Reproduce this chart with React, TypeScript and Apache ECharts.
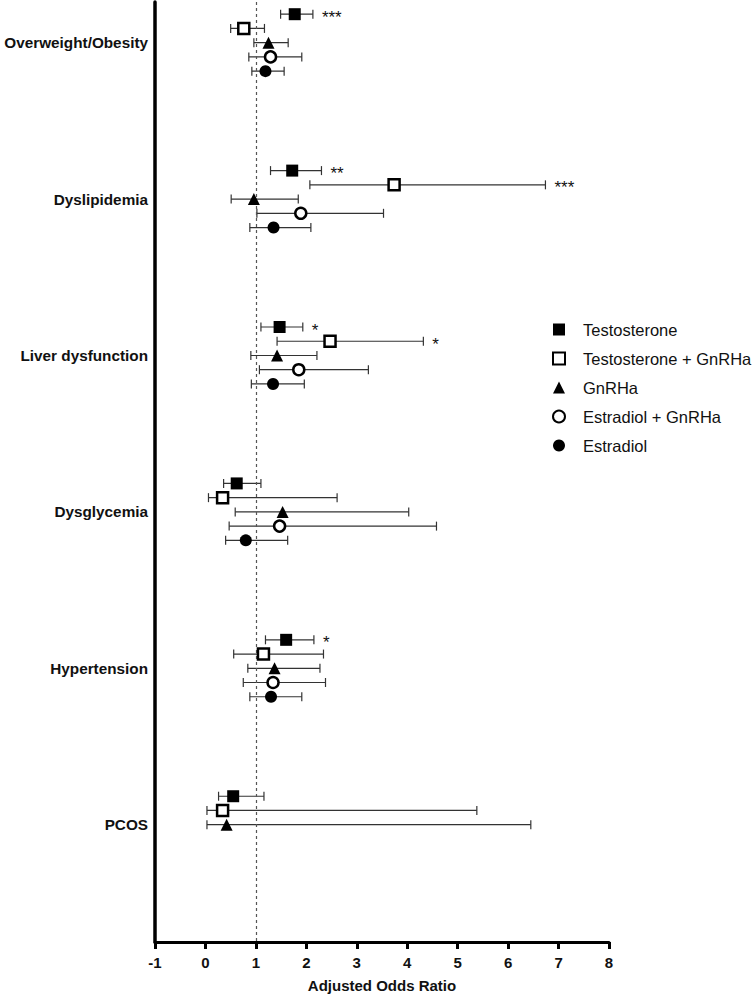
import React, { useEffect, useRef } from "react";
import * as echarts from "echarts";

const categories = ["Overweight/Obesity", "Dyslipidemia", "Liver dysfunction", "Dysglycemia", "Hypertension", "PCOS"];
const xTicks = [-1, 0, 1, 2, 3, 4, 5, 6, 7, 8];

const testosteroneOR = [1.77, 1.72, 1.47, 0.62, 1.6, 0.55];
const testosteroneLo = [1.49, 1.29, 1.1, 0.36, 1.19, 0.26];
const testosteroneHi = [2.13, 2.3, 1.93, 1.1, 2.15, 1.16];
const testosteroneSig = ["***", "**", "*", "", "*", ""];

const tgOR = [0.76, 3.74, 2.47, 0.34, 1.15, 0.34];
const tgLo = [0.5, 2.07, 1.42, 0.06, 0.56, 0.03];
const tgHi = [1.17, 6.74, 4.32, 2.61, 2.34, 5.38];
const tgSig = ["", "***", "*", "", "", ""];

const gnrhaOR = [1.25, 0.96, 1.42, 1.53, 1.37, 0.42];
const gnrhaLo = [0.96, 0.51, 0.9, 0.59, 0.84, 0.03];
const gnrhaHi = [1.64, 1.84, 2.21, 4.03, 2.27, 6.45];
const gnrhaSig = ["", "", "", "", "", ""];

const egOR = [1.29, 1.89, 1.85, 1.47, 1.34, null];
const egLo = [0.86, 1.02, 1.07, 0.47, 0.75, null];
const egHi = [1.91, 3.53, 3.23, 4.58, 2.38, null];
const egSig = ["", "", "", "", "", ""];

const eOR = [1.19, 1.35, 1.34, 0.8, 1.3, null];
const eLo = [0.92, 0.88, 0.91, 0.4, 0.88, null];
const eHi = [1.56, 2.09, 1.96, 1.63, 1.91, null];
const eSig = ["", "", "", "", "", ""];

const FONT = "'Liberation Sans', Arial, sans-serif";

type Group = {
  name: string;
  or: (number | null)[];
  lo: (number | null)[];
  hi: (number | null)[];
  sig: string[];
  offset: number;
  symbol: string;
  size: number;
  fill: string;
  border: number;
};

const ROW = 0.091;
const groups: Group[] = [
  { name: "Testosterone", or: testosteroneOR, lo: testosteroneLo, hi: testosteroneHi, sig: testosteroneSig, offset: -2 * ROW, symbol: "rect", size: 12, fill: "#000", border: 0 },
  { name: "Testosterone + GnRHa", or: tgOR, lo: tgLo, hi: tgHi, sig: tgSig, offset: -ROW, symbol: "rect", size: 11, fill: "#fff", border: 2.5 },
  { name: "GnRHa", or: gnrhaOR, lo: gnrhaLo, hi: gnrhaHi, sig: gnrhaSig, offset: 0, symbol: "triangle", size: 12, fill: "#000", border: 0 },
  { name: "Estradiol + GnRHa", or: egOR, lo: egLo, hi: egHi, sig: egSig, offset: ROW, symbol: "circle", size: 11, fill: "#fff", border: 2.5 },
  { name: "Estradiol", or: eOR, lo: eLo, hi: eHi, sig: eSig, offset: 2 * ROW, symbol: "circle", size: 12, fill: "#000", border: 0 },
];

function buildSeries(): any[] {
  const series: any[] = [];
  groups.forEach((g, gi) => {
    const idx = categories.map((_, i) => i).filter((i) => g.or[i] != null);
    const barData = idx.map((i) => [g.lo[i], g.hi[i], i + g.offset, g.or[i]]);
    const sigs = idx.map((i) => g.sig[i]);
    series.push({
      name: g.name + " CI",
      type: "custom",
      z: 2,
      silent: true,
      encode: { x: [0, 1], y: 2 },
      data: barData,
      renderItem: (params: any, api: any) => {
        const y = api.value(2);
        const a = api.coord([api.value(0), y]);
        const b = api.coord([api.value(1), y]);
        const cap = 4.5;
        const st = { stroke: "#333", lineWidth: 1.2 };
        const children: any[] = [
          { type: "line", shape: { x1: a[0], y1: a[1], x2: b[0], y2: b[1] }, style: st },
          { type: "line", shape: { x1: a[0], y1: a[1] - cap, x2: a[0], y2: a[1] + cap }, style: st },
          { type: "line", shape: { x1: b[0], y1: b[1] - cap, x2: b[0], y2: b[1] + cap }, style: st },
        ];
        const s = sigs[params.dataIndex];
        if (s) {
          children.push({
            type: "text",
            x: b[0] + 9,
            y: b[1] + 3,
            style: { text: s, fontSize: 17, fontFamily: FONT, fill: "#111", align: "left", verticalAlign: "middle" },
          });
        }
        return { type: "group", children };
      },
    });
    const pts = idx.map((i) => [g.or[i], i + g.offset]);
    const sc: any = {
      name: g.name,
      type: "scatter",
      z: 5,
      symbol: g.symbol,
      symbolSize: g.size,
      data: pts,
      itemStyle: { color: g.fill, borderColor: "#000", borderWidth: g.border, opacity: 1 },
    };
    if (gi === 0) {
      sc.markLine = {
        silent: true,
        symbol: ["none", "none"],
        label: { show: false },
        lineStyle: { color: "#555", type: [3, 3], width: 1.2 },
        data: [{ xAxis: 1 }],
      };
    }
    series.push(sc);
  });
  return series;
}

export default function App() {
  const ref = useRef<HTMLDivElement>(null);
  useEffect(() => {
    if (!ref.current) return;
    const chart = echarts.init(ref.current, null, { renderer: "svg" });
    chart.setOption({
      animation: false,
      backgroundColor: "#fff",
      textStyle: { fontFamily: FONT },
      grid: { left: 155, right: 146, top: 2, bottom: 55, containLabel: false, outerBoundsMode: "none" },
      legend: {
        orient: "vertical",
        left: 547,
        top: 316,
        itemWidth: 12,
        itemHeight: 12,
        itemGap: 12,
        selectedMode: false,
        data: groups.map((g) => g.name),
        textStyle: { fontSize: 16.5, color: "#111", fontFamily: FONT, padding: [0, 0, 0, 13] },
      },
      xAxis: {
        type: "value",
        min: xTicks[0],
        max: xTicks[xTicks.length - 1],
        interval: 1,
        name: "Adjusted Odds Ratio",
        nameLocation: "middle",
        nameGap: 36,
        nameTextStyle: { fontSize: 15, fontWeight: "bold", color: "#111", fontFamily: FONT },
        axisLine: { show: true, onZero: false, lineStyle: { color: "#000", width: 3 } },
        axisTick: { show: true, length: 7, lineStyle: { color: "#000", width: 3 } },
        axisLabel: { fontSize: 15, fontWeight: "bold", color: "#111", margin: 13, fontFamily: FONT },
        splitLine: { show: false },
      },
      yAxis: {
        type: "value",
        inverse: true,
        min: -0.26,
        max: 5.75,
        axisLine: { show: true, onZero: false, lineStyle: { color: "#000", width: 3.5 } },
        axisTick: { show: false },
        splitLine: { show: false },
        axisLabel: {
          customValues: categories.map((_, i) => i),
          formatter: (v: number) => categories[Math.round(v)] ?? "",
          fontSize: 15.3,
          fontWeight: "bold",
          color: "#111",
          margin: 7,
          fontFamily: FONT,
        },
      },
      series: buildSeries(),
    });
    return () => chart.dispose();
  }, []);
  return <div ref={ref} style={{ position: "fixed", left: 0, top: 0, width: 755, height: 997 }} />;
}
